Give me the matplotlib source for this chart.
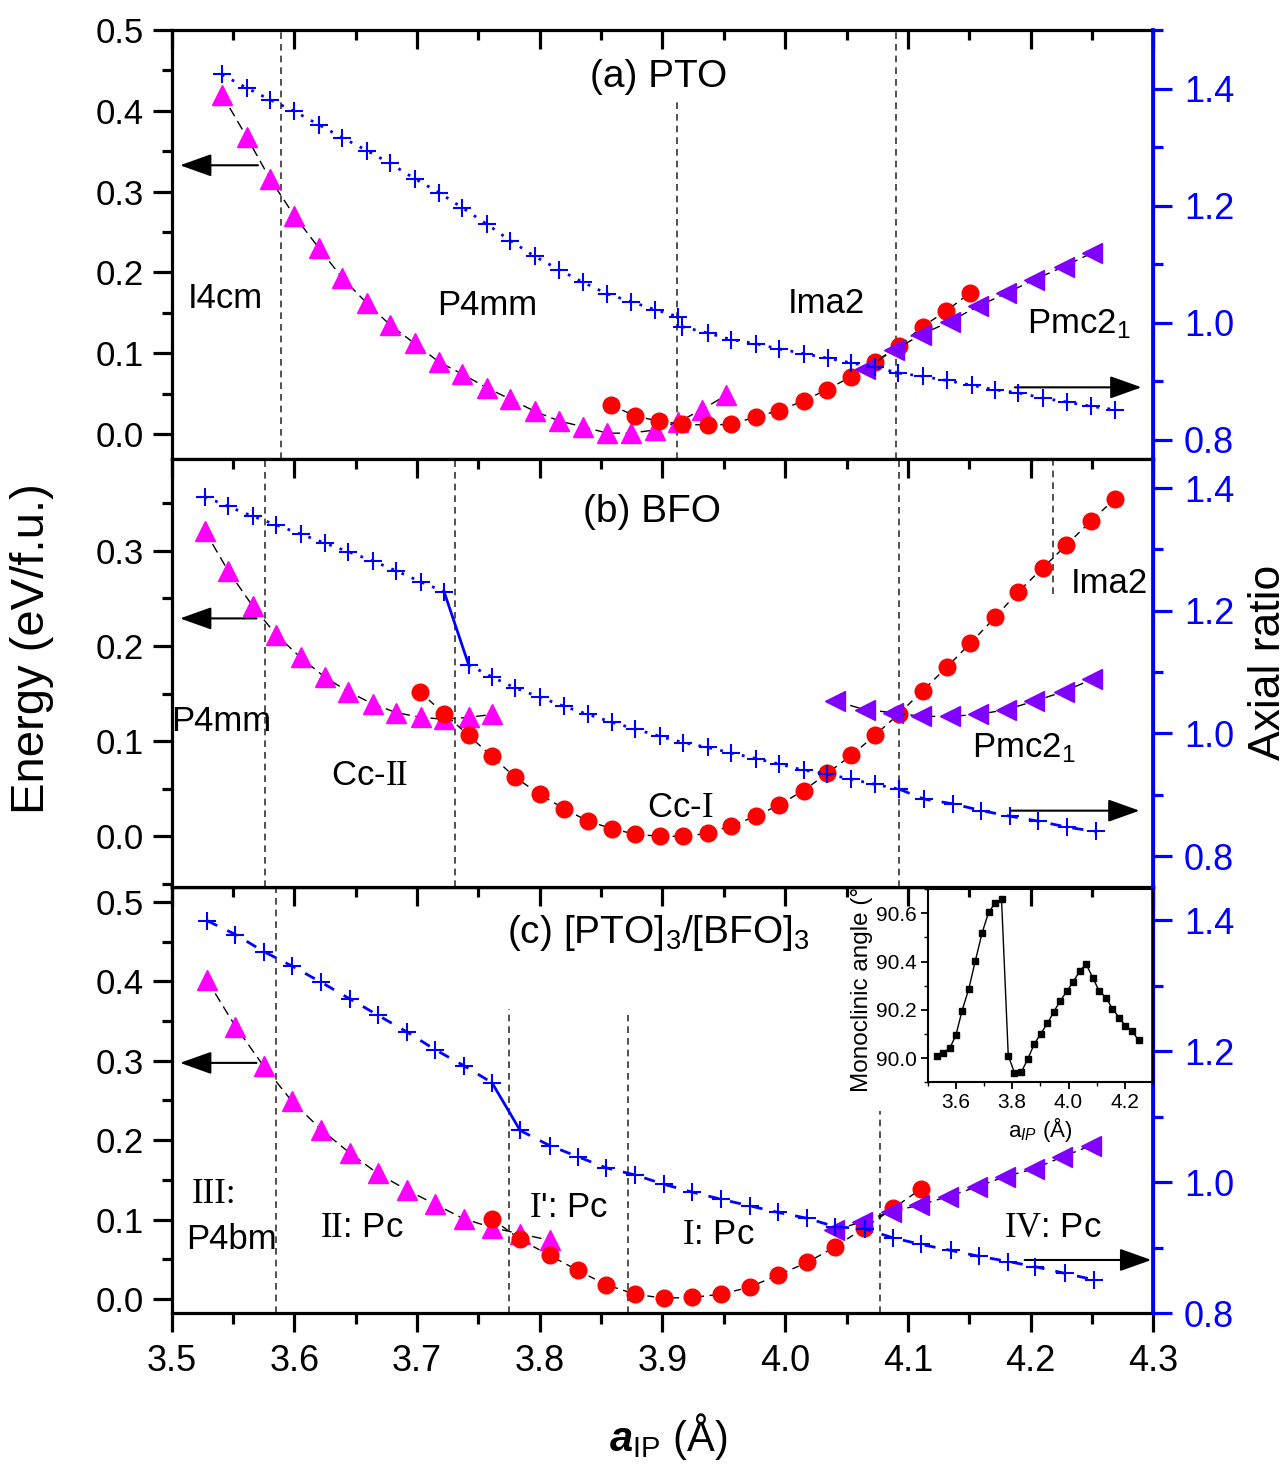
import matplotlib
matplotlib.use("Agg")
import matplotlib.pyplot as plt
from matplotlib.ticker import MultipleLocator, FormatStrFormatter

plt.rcParams.update({
    "font.family": "Liberation Sans",
    "mathtext.fontset": "custom",
    "mathtext.rm": "Liberation Serif",
    "mathtext.sf": "Liberation Sans",
    "mathtext.it": "Liberation Sans:italic",
    "mathtext.bf": "Liberation Sans:italic:bold",
})

# ---------------- data ----------------
# (a) PTO
a_tri_x = [3.541, 3.561, 3.580, 3.600, 3.620, 3.639, 3.659, 3.678, 3.698, 3.718, 3.737,
           3.757, 3.776, 3.796, 3.816, 3.835, 3.855, 3.874, 3.894, 3.913, 3.932, 3.952]
a_tri_e = [0.420, 0.368, 0.316, 0.270, 0.230, 0.193, 0.162, 0.135, 0.112, 0.089, 0.074,
           0.057, 0.043, 0.028, 0.016, 0.009, 0.001, 0.001, 0.005, 0.015, 0.030, 0.048]
a_cir_x = [3.858, 3.878, 3.897, 3.916, 3.937, 3.956, 3.976, 3.995, 4.015, 4.034, 4.054,
           4.073, 4.093, 4.112, 4.131, 4.151]
a_cir_e = [0.036, 0.022, 0.016, 0.012, 0.011, 0.012, 0.021, 0.029, 0.041, 0.055, 0.071,
           0.089, 0.109, 0.133, 0.152, 0.175]
a_pmc_x = [4.065, 4.089, 4.111, 4.134, 4.157, 4.180, 4.203, 4.227, 4.250]
a_pmc_e = [0.081, 0.104, 0.123, 0.139, 0.158, 0.174, 0.191, 0.207, 0.224]
a_ax1_x = a_tri_x[:20]
a_ax1_r = [1.424, 1.401, 1.381, 1.361, 1.338, 1.316, 1.294, 1.272, 1.246, 1.222, 1.196,
           1.168, 1.140, 1.113, 1.090, 1.069, 1.049, 1.036, 1.022, 1.010]
a_ax2_x = [3.916, 3.937, 3.956, 3.976, 3.995, 4.015, 4.035, 4.054, 4.073, 4.092, 4.112,
           4.132, 4.152, 4.171, 4.190, 4.210, 4.230, 4.249, 4.269]
a_ax2_r = [0.993, 0.982, 0.971, 0.964, 0.955, 0.947, 0.939, 0.931, 0.924, 0.914, 0.908,
           0.901, 0.893, 0.885, 0.880, 0.871, 0.864, 0.857, 0.851]

# (b) BFO
b_tri_x = [3.527, 3.546, 3.566, 3.585, 3.605, 3.625, 3.644, 3.664, 3.683, 3.703, 3.722,
           3.742, 3.761]
b_tri_e = [0.321, 0.279, 0.242, 0.212, 0.188, 0.167, 0.152, 0.139, 0.130, 0.125, 0.123,
           0.125, 0.128]
b_cir_x = [3.702, 3.722, 3.742, 3.761, 3.780, 3.800, 3.820, 3.839, 3.859, 3.878, 3.898,
           3.917, 3.937, 3.956, 3.976, 3.995, 4.015, 4.034, 4.054, 4.073, 4.093, 4.112,
           4.132, 4.151, 4.171, 4.190, 4.210, 4.229, 4.249, 4.269]
b_cir_e = [0.152, 0.129, 0.106, 0.084, 0.062, 0.044, 0.029, 0.016, 0.008, 0.002, 0.000,
           0.000, 0.003, 0.011, 0.021, 0.033, 0.048, 0.066, 0.085, 0.106, 0.129, 0.153,
           0.178, 0.203, 0.230, 0.257, 0.282, 0.306, 0.331, 0.355]
b_pmc_x = [4.041, 4.065, 4.088, 4.111, 4.134, 4.157, 4.180, 4.203, 4.227, 4.250]
b_pmc_e = [0.142, 0.133, 0.130, 0.126, 0.126, 0.128, 0.133, 0.142, 0.152, 0.165]
b_ax1_x = b_tri_x[:11]
b_ax1_r = [1.386, 1.370, 1.354, 1.340, 1.325, 1.310, 1.296, 1.281, 1.265, 1.247, 1.231]
b_ax2_x = [3.742, 3.761, 3.780, 3.800, 3.820, 3.839, 3.859, 3.878, 3.898, 3.917, 3.937,
           3.956, 3.976, 3.995, 4.015, 4.034, 4.054, 4.073, 4.093]
b_ax2_r = [1.112, 1.092, 1.074, 1.059, 1.044, 1.031, 1.018, 1.007, 0.995, 0.985, 0.977,
           0.968, 0.959, 0.950, 0.940, 0.934, 0.925, 0.917, 0.909]
b_ax3_x = [4.113, 4.137, 4.160, 4.183, 4.206, 4.230, 4.253]
b_ax3_r = [0.893, 0.885, 0.874, 0.865, 0.857, 0.847, 0.840]

# (c) [PTO]3/[BFO]3
c_tri_x = [3.529, 3.552, 3.575, 3.598, 3.622, 3.645, 3.668, 3.692, 3.715, 3.738, 3.761,
           3.784, 3.808]
c_tri_e = [0.401, 0.343, 0.293, 0.249, 0.213, 0.184, 0.158, 0.137, 0.119, 0.101, 0.090,
           0.082, 0.074]
c_cir_x = [3.761, 3.784, 3.808, 3.831, 3.854, 3.878, 3.901, 3.924, 3.948, 3.971, 3.994,
           4.018, 4.041, 4.064, 4.088, 4.111]
c_cir_e = [0.101, 0.075, 0.055, 0.036, 0.018, 0.006, 0.001, 0.002, 0.006, 0.015, 0.030,
           0.046, 0.066, 0.089, 0.114, 0.139]
c_pmc_x = [4.040, 4.063, 4.086, 4.109, 4.133, 4.156, 4.179, 4.203, 4.226, 4.249]
c_pmc_e = [0.087, 0.097, 0.110, 0.118, 0.129, 0.141, 0.154, 0.164, 0.179, 0.193]
c_ax1_x = c_tri_x[:11]
c_ax1_r = [1.399, 1.378, 1.352, 1.330, 1.305, 1.280, 1.255, 1.229, 1.202, 1.178, 1.152]
c_ax2_x = [3.784, 3.808, 3.831, 3.854, 3.878, 3.901, 3.924, 3.948, 3.971, 3.994, 4.018,
           4.041, 4.065, 4.088, 4.111, 4.135, 4.158, 4.182, 4.204, 4.228, 4.252]
c_ax2_r = [1.079, 1.056, 1.039, 1.022, 1.011, 0.997, 0.985, 0.974, 0.964, 0.954, 0.945,
           0.932, 0.929, 0.915, 0.905, 0.896, 0.887, 0.879, 0.871, 0.861, 0.851]

# inset: monoclinic angle
ins_x = [3.532, 3.554, 3.578, 3.600, 3.622, 3.646, 3.669, 3.693, 3.716, 3.740, 3.762,
         3.786, 3.808, 3.832, 3.855, 3.878, 3.901, 3.925, 3.948, 3.971, 3.994, 4.016,
         4.039, 4.062, 4.086, 4.109, 4.133, 4.156, 4.180, 4.202, 4.226, 4.249]
ins_y = [90.011, 90.022, 90.041, 90.095, 90.197, 90.288, 90.403, 90.518, 90.603, 90.644,
         90.658, 90.010, 89.940, 89.942, 89.996, 90.058, 90.101, 90.144, 90.193, 90.238,
         90.277, 90.315, 90.359, 90.390, 90.333, 90.277, 90.251, 90.204, 90.168, 90.134,
         90.111, 90.074]

MAG, RED, PUR, BLUE = "#ff00ff", "#ff0000", "#8000ff", "#0000ff"
LW_SP = 2.3
XTICK = 26
YTICK = 25
RTICK = 26


def setup(ax, tw, ylim, rlim, ymaj, bottom_labels=False):
    ax.set_xlim(3.5, 4.3)
    ax.set_ylim(*ylim)
    tw.set_ylim(*rlim)
    for s in ax.spines.values():
        s.set_linewidth(LW_SP)
    for k in ("left", "top", "bottom"):
        tw.spines[k].set_visible(False)
    tw.spines["right"].set_color(BLUE)
    tw.spines["right"].set_linewidth(LW_SP + 0.4)
    ax.xaxis.set_major_locator(MultipleLocator(0.1))
    ax.xaxis.set_minor_locator(MultipleLocator(0.05))
    ax.xaxis.set_major_formatter(FormatStrFormatter("%.1f"))
    ax.yaxis.set_major_locator(MultipleLocator(ymaj))
    ax.yaxis.set_minor_locator(MultipleLocator(ymaj / 2))
    ax.yaxis.set_major_formatter(FormatStrFormatter("%.1f"))
    ax.tick_params(axis="y", which="major", direction="out", length=14, width=LW_SP,
                   labelsize=YTICK, pad=6)
    ax.tick_params(axis="y", which="minor", direction="out", length=7, width=LW_SP)
    tw.yaxis.set_major_locator(MultipleLocator(0.2))
    tw.yaxis.set_minor_locator(MultipleLocator(0.1))
    tw.yaxis.set_major_formatter(FormatStrFormatter("%.1f"))
    tw.tick_params(axis="y", which="major", direction="out", length=14, width=LW_SP,
                   colors=BLUE, labelsize=RTICK, pad=8)
    tw.tick_params(axis="y", which="minor", direction="out", length=7, width=LW_SP,
                   colors=BLUE)
    if bottom_labels:
        ax.tick_params(axis="x", which="major", direction="out", length=14, width=LW_SP,
                       labelsize=XTICK, pad=8)
        ax.tick_params(axis="x", which="minor", direction="out", length=8, width=LW_SP)
        sec = ax.secondary_xaxis("top")
        sec.xaxis.set_major_locator(MultipleLocator(0.1))
        sec.xaxis.set_minor_locator(MultipleLocator(0.05))
        sec.tick_params(axis="x", which="major", direction="in", length=14, width=LW_SP,
                        labeltop=False)
        sec.tick_params(axis="x", which="minor", direction="in", length=7, width=LW_SP)
        sec.spines["top"].set_linewidth(LW_SP)
    else:
        ax.tick_params(axis="x", which="both", top=True, bottom=False, labelbottom=False,
                       direction="in", width=LW_SP)
        ax.tick_params(axis="x", which="major", length=14)
        ax.tick_params(axis="x", which="minor", length=7)


def energy(ax, tx, te, cx, ce, px, pe):
    ax.plot(tx, te, color="k", lw=1.0, dashes=(7, 4), marker="^", ms=15, mfc=MAG,
            mec=MAG, zorder=3)
    ax.plot(cx, ce, color="k", lw=1.0, dashes=(5, 4), marker="o", ms=12, mfc=RED,
            mec=RED, zorder=4)
    ax.plot(px, pe, color="k", lw=1.0, dashes=(7, 4), marker="<", ms=15, mfc=PUR,
            mec=PUR, zorder=5)


def ratio(tw, x, r, ls):
    if ls == ":":
        tw.plot(x, r, color=BLUE, lw=2.0, linestyle=(0, (1, 3)), marker="+", ms=13, mew=1.5)
    else:
        tw.plot(x, r, color=BLUE, lw=2.0, dashes=(4, 4), marker="+", ms=13, mew=1.5)


def vline(ax, x, y0=0.0, y1=1.0):
    ax.axvline(x, ymin=y0, ymax=y1, color="#333333", lw=1.2, dashes=(4, 3), zorder=1)


def arrow(ax, x0, x1, y):
    ax.annotate("", xy=(x1, y), xytext=(x0, y), xycoords="axes fraction",
                arrowprops=dict(arrowstyle="-|>,head_length=0.7,head_width=0.25",
                                color="k", lw=1.5, mutation_scale=28, shrinkA=0, shrinkB=0))


def label(ax, x, y, s, size=25, **kw):
    ax.text(x, y, s, transform=ax.transAxes, ha="center", va="baseline", fontsize=size, **kw)


fig = plt.figure(figsize=(12.88, 14.67), dpi=100)
L, W = 0.1333, 0.7621

# ---------------- panel (c) ----------------
ax_c = fig.add_axes([L, 0.10477, W, 0.29080])
tw_c = ax_c.twinx()
setup(ax_c, tw_c, (-0.018, 0.519), (0.8, 1.451), 0.1, bottom_labels=True)
energy(ax_c, c_tri_x, c_tri_e, c_cir_x, c_cir_e, c_pmc_x, c_pmc_e)
ratio(tw_c, c_ax1_x, c_ax1_r, "--")
ratio(tw_c, c_ax2_x, c_ax2_r, "--")
tw_c.plot([c_ax1_x[-1], c_ax2_x[0]], [c_ax1_r[-1], c_ax2_r[0]], color=BLUE, lw=2.0)
vline(ax_c, 3.585)
vline(ax_c, 3.775, 0, 0.713)
vline(ax_c, 3.872, 0, 0.70)
vline(ax_c, 4.077, 0, 0.474)
arrow(ax_c, 0.0864, 0.0085, 0.587)
arrow(ax_c, 0.869, 0.998, 0.125)
label(ax_c, 0.4959, 0.8687, r"(c) [PTO]$_\mathsf{3}$/[BFO]$_\mathsf{3}$", size=28)
label(ax_c, 0.0436, 0.258, "III:", family="Liberation Serif")
label(ax_c, 0.0609, 0.150, "P4bm")
label(ax_c, 0.1939, 0.178, r"$\mathrm{II}$: Pc")
label(ax_c, 0.4042, 0.225, r"$\mathrm{I}$': Pc")
label(ax_c, 0.557, 0.1624, r"$\mathrm{I}$: Pc")
label(ax_c, 0.8978, 0.178, r"$\mathrm{IV}$: Pc")

# inset
ins = fig.add_axes([0.7203, 0.2622, 0.1749, 0.1318])
ins.patch.set_facecolor("none")
ins.plot(ins_x, ins_y, color="k", lw=1.0, marker="s", ms=4)
ins.set_xlim(3.5, 4.3)
ins.set_ylim(89.9, 90.7)
ins.xaxis.set_major_locator(MultipleLocator(0.2))
ins.xaxis.set_minor_locator(MultipleLocator(0.1))
ins.yaxis.set_major_locator(MultipleLocator(0.2))
ins.yaxis.set_minor_locator(MultipleLocator(0.1))
ins.xaxis.set_major_formatter(FormatStrFormatter("%.1f"))
ins.yaxis.set_major_formatter(FormatStrFormatter("%.1f"))
for s in ins.spines.values():
    s.set_linewidth(1.5)
ins.tick_params(which="major", direction="out", length=5, width=1.3, labelsize=15, pad=3)
ins.tick_params(which="minor", direction="out", length=3, width=1.0)
ins.set_ylabel("Monoclinic angle (°)", fontsize=17.5, labelpad=2)
ins.set_xlabel(r"a$_{\mathit{IP}}$ (Å)", fontsize=16, labelpad=2)

# ---------------- panel (a) ----------------
ax_a = fig.add_axes([L, 0.68678, W, 0.29278])
tw_a = ax_a.twinx()
setup(ax_a, tw_a, (-0.0316, 0.5), (0.766, 1.5), 0.1)
energy(ax_a, a_tri_x, a_tri_e, a_cir_x, a_cir_e, a_pmc_x, a_pmc_e)
ratio(tw_a, a_ax1_x, a_ax1_r, ":")
ratio(tw_a, a_ax2_x, a_ax2_r, ":")
vline(ax_a, 3.589)
vline(ax_a, 3.912, 0, 0.837)
vline(ax_a, 4.090)
arrow(ax_a, 0.0879, 0.0085, 0.685)
arrow(ax_a, 0.859, 0.988, 0.168)
label(ax_a, 0.4964, 0.867, "(a) PTO", size=28)
label(ax_a, 0.0548, 0.352, "I4cm")
label(ax_a, 0.321, 0.336, "P4mm")
label(ax_a, 0.667, 0.340, "Ima2")
label(ax_a, 0.924, 0.294, r"Pmc2$_\mathsf{1}$")

# ---------------- panel (b) ----------------
ax_b = fig.add_axes([L, 0.39557, W, 0.29121])
tw_b = ax_b.twinx()
setup(ax_b, tw_b, (-0.053, 0.396), (0.75, 1.4465), 0.1)
energy(ax_b, b_tri_x, b_tri_e, b_cir_x, b_cir_e, b_pmc_x, b_pmc_e)
ratio(tw_b, b_ax1_x, b_ax1_r, ":")
ratio(tw_b, b_ax2_x, b_ax2_r, ":")
ratio(tw_b, [b_ax2_x[-1]] + b_ax3_x, [b_ax2_r[-1]] + b_ax3_r, "--")
tw_b.plot([b_ax1_x[-1], b_ax2_x[0]], [b_ax1_r[-1], b_ax2_r[0]], color=BLUE, lw=2.0)
vline(ax_b, 3.576)
vline(ax_b, 3.731)
vline(ax_b, 4.093)
vline(ax_b, 4.218, 0.685, 1.0)
arrow(ax_b, 0.0864, 0.0085, 0.628)
arrow(ax_b, 0.854, 0.986, 0.178)
label(ax_b, 0.4898, 0.854, "(b) BFO", size=28)
label(ax_b, 0.0503, 0.3655, "P4mm")
label(ax_b, 0.2015, 0.2387, r"Cc-$\mathrm{II}$")
label(ax_b, 0.518, 0.164, r"Cc-$\mathrm{I}$")
label(ax_b, 0.9554, 0.6885, "Ima2")
label(ax_b, 0.868, 0.3028, r"Pmc2$_\mathsf{1}$")

# shared axis titles
fig.text(32 / 1288, 1 - 649 / 1467, "Energy (eV/f.u.)", rotation=90, ha="center",
         va="center", fontsize=34)
fig.text(1268 / 1288, 1 - 662 / 1467, "Axial ratio", rotation=90, ha="center",
         va="center", fontsize=32)
fig.text(668 / 1288, 1 - 1436 / 1467, r"$\mathbf{a}_\mathsf{IP}$ (Å)", ha="center",
         va="center", fontsize=30)

fig.savefig("out.png", dpi=100)
